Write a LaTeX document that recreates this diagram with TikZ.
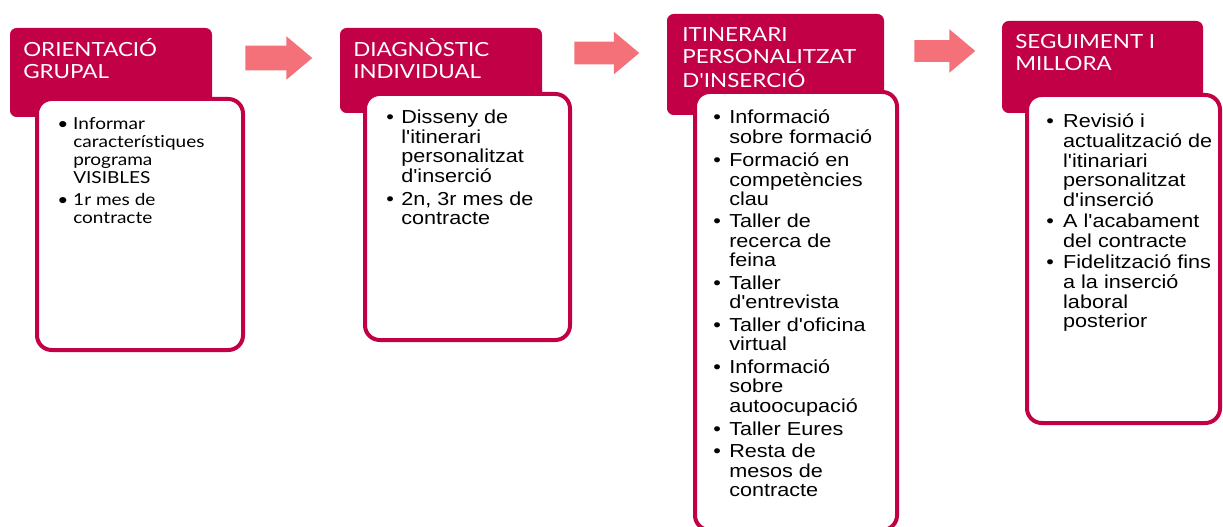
\documentclass[tikz,border=0pt]{standalone}
\usepackage{fontspec}
\newfontfamily\headfont{Lato}[Ligatures={NoCommon,NoDiscretionary}]
\newfontfamily\bodyfont{Liberation Sans}
\usetikzlibrary{shapes.arrows}
\definecolor{crimson}{HTML}{C20046}
\definecolor{salmon}{HTML}{F4717A}

\begin{document}
\begin{tikzpicture}[x=0.75pt,y=-0.75pt,
  headbox/.style={fill=crimson, rounded corners=5pt, inner sep=0pt},
  panel/.style={draw=crimson, line width=3pt, fill=white, rounded corners=11pt, inner sep=0pt},
  headtext/.style={anchor=base west, inner sep=0pt, text=white, font=\headfont\fontsize{14.6}{16}\selectfont, xscale=1.15, transform shape},
  bodytext/.style={anchor=base west, inner sep=0pt, font=\bodyfont\fontsize{14.1}{14.6}\selectfont, xscale=1.15, transform shape},
  blockarrow/.style={single arrow, fill=salmon, inner xsep=0pt, single arrow tip angle=80, anchor=tail}]

\useasboundingbox (0,0) rectangle (1223,527);
\clip (0,0) rectangle (1223,527);

% stage 1
\node (h1) at (111,72.5)[headbox, minimum width=151.5pt, minimum height=66.75pt]{};
\node (p1) at (140,224.5)[panel, minimum width=154.5pt, minimum height=188.25pt]{};
\node (t1) at (23,57)[headtext]{\begin{tabular}[t]{@{}l@{}}ORIENTACIÓ\\ GRUPAL\end{tabular}};
\node (b1) at (57,130)[bodytext, font=\headfont\fontsize{12.4}{13.5}\selectfont]{\begin{tabular}[t]{@{}p{10.4pt}@{}l@{}}
\textbullet & Informar\\
 & característiques\\
 & programa\\
 & VISIBLES\\[3pt]
\textbullet & 1r mes de\\
 & contracte
\end{tabular}};

\node (a1) at (245,58)[blockarrow, inner ysep=9pt, minimum height=50.25pt, single arrow head extend=7.1pt]{};

% stage 2
\node (h2) at (441,70.5)[headbox, minimum width=151.5pt, minimum height=63.75pt]{};
\node (p2) at (467.5,217)[panel, minimum width=153.75pt, minimum height=184.5pt]{};
\node (t2) at (353,57)[headtext]{\begin{tabular}[t]{@{}l@{}}DIAGNÒSTIC\\ INDIVIDUAL\end{tabular}};
\node (b2) at (386,124)[bodytext]{\begin{tabular}[t]{@{}p{9.8pt}@{}l@{}}
\textbullet & Disseny de\\
 & l'itinerari\\
 & personalitzat\\
 & d'inserció\\[2.25pt]
\textbullet & 2n, 3r mes de\\
 & contracte
\end{tabular}};

\node (a2) at (574,53)[blockarrow, inner ysep=8.25pt, minimum height=48.75pt, single arrow head extend=7.5pt]{};

% stage 3
\node (h3) at (775.5,64.5)[headbox, minimum width=162.75pt, minimum height=75.75pt]{};
\node (p3) at (796,311)[panel, minimum width=151.5pt, minimum height=328.5pt]{};
\node (t3) at (682,42)[headtext]{\begin{tabular}[t]{@{}l@{}}ITINERARI\\ PERSONALITZAT\\ D'INSERCIÓ\end{tabular}};
\node (b3) at (713,124)[bodytext]{\begin{tabular}[t]{@{}p{10.4pt}@{}l@{}}
\textbullet & Informació\\
 & sobre formació\\[2.25pt]
\textbullet & Formació en\\
 & competències\\
 & clau\\[2.25pt]
\textbullet & Taller de\\
 & recerca de\\
 & feina\\[2.25pt]
\textbullet & Taller\\
 & d'entrevista\\[2.25pt]
\textbullet & Taller d'oficina\\
 & virtual\\[2.25pt]
\textbullet & Informació\\
 & sobre\\
 & autoocupació\\[2.25pt]
\textbullet & Taller Eures\\[2.25pt]
\textbullet & Resta de\\
 & mesos de\\
 & contracte
\end{tabular}};

\node (a3) at (914,51)[blockarrow, inner ysep=7.9pt, minimum height=45.75pt, single arrow head extend=8.25pt]{};

% stage 4
\node (h4) at (1102.5,67)[headbox, minimum width=150.75pt, minimum height=69pt]{};
\node (p4) at (1123.5,259)[panel, minimum width=144.75pt, minimum height=246pt]{};
\node (t4) at (1015,49)[headtext]{\begin{tabular}[t]{@{}l@{}}SEGUIMENT I\\ MILLORA\end{tabular}};
\node (b4) at (1046,128)[bodytext]{\begin{tabular}[t]{@{}p{11pt}@{}l@{}}
\textbullet & Revisió i\\
 & actualització de\\
 & l'itinariari\\
 & personalitzat\\
 & d'inserció\\[1.5pt]
\textbullet & A l'acabament\\
 & del contracte\\[1.5pt]
\textbullet & Fidelització fins\\
 & a la inserció\\
 & laboral\\
 & posterior
\end{tabular}};
\end{tikzpicture}
\end{document}
